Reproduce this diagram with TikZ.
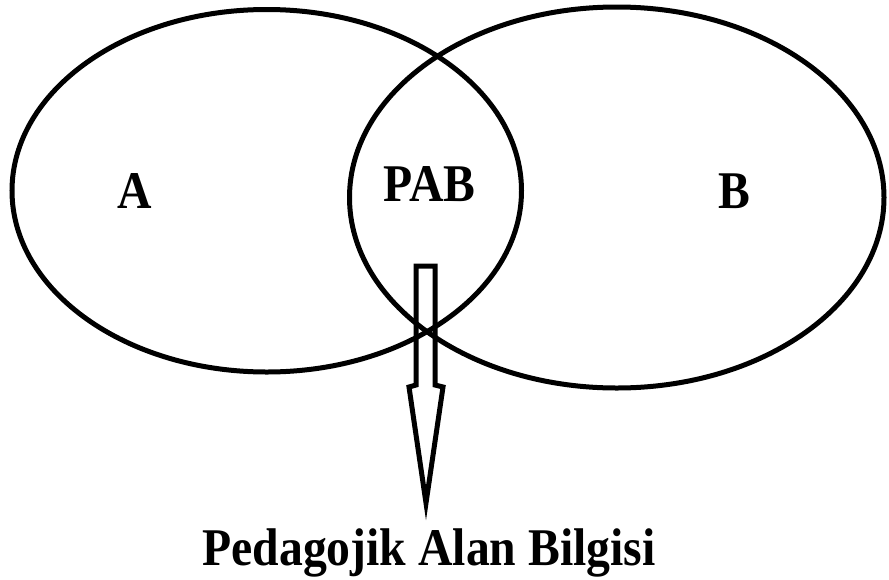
\documentclass[tikz,border=0pt]{standalone}
\usepackage{fontspec}
\setmainfont{Liberation Serif}
\usetikzlibrary{calc}

\begin{document}
\begin{tikzpicture}[x=1pt,y=-1pt,
  set/.style={line width=5pt},
  lbl/.style={font=\fontsize{53}{60}\selectfont\bfseries,inner sep=0pt,xscale=0.9}]
\useasboundingbox (0,0) rectangle (889,579);
\draw[set] (266.75,190.75) ellipse [x radius=254.75pt, y radius=181.25pt];
\draw[set] (616.75,197.5) ellipse [x radius=267.25pt, y radius=190.5pt];
\node[lbl] (a) at (134.5,191) {A};
\node[lbl] (pab) at (429.5,184.5) {PAB};
\node[lbl] (b) at (734,191) {B};

\draw[set,line join=miter] (416,266) -- (435,266) -- (435,385) -- (443,387)
  -- (426,503) -- (409,387) -- (416,385) -- cycle;
\node[lbl,anchor=base] (pal) at (429,565) {Pedagojik Alan Bilgisi};
\end{tikzpicture}
\end{document}
